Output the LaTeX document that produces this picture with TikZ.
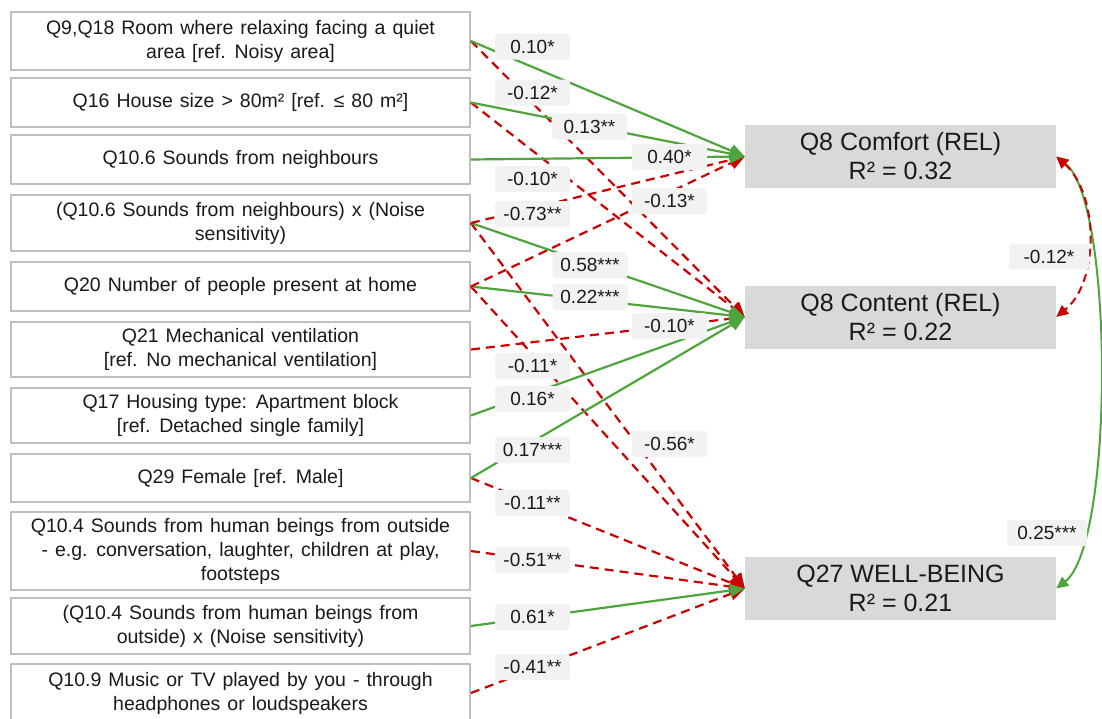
\documentclass[tikz,border=0pt]{standalone}
\usepackage{fontspec}
\setmainfont{Liberation Sans}
\usetikzlibrary{arrows.meta}
\definecolor{pgreen}{HTML}{4EA53C}
\definecolor{pred}{HTML}{CC0000}
\definecolor{lblfill}{HTML}{F2F2F2}
\definecolor{boxgray}{HTML}{D9D9D9}
\definecolor{bordergray}{HTML}{BFBFBF}
\definecolor{txt}{HTML}{1A1A1A}
\newcommand\srcfontcmd{\fontsize{19.5}{24}\selectfont\spaceskip 7pt\relax}
\begin{document}
\begin{tikzpicture}[x=1pt,y=-1pt,
 src/.style={draw=bordergray, line width=1.8pt, minimum width=459pt, align=center, text=txt, font=\srcfontcmd, inner sep=0pt},
 tgt/.style={fill=boxgray, minimum width=311pt, minimum height=63pt, align=center, text=txt, font=\fontsize{25}{29}\selectfont, inner sep=0pt},
 posline/.style={draw=pgreen, line width=2.2pt, -{Triangle[length=15pt,width=13pt]}},
 negline/.style={draw=pred, line width=2.2pt, dash pattern=on 9pt off 6pt, -{Triangle[length=15pt,width=13pt]}},
 covpos/.style={draw=pgreen, line width=2pt, {Triangle[length=12pt,width=11pt]}-{Triangle[length=12pt,width=11pt]}},
 covneg/.style={draw=pred, line width=2pt, dash pattern=on 8pt off 5pt, {Triangle[length=12pt,width=11pt]}-{Triangle[length=12pt,width=11pt]}},
 coef/.style={fill=lblfill, rounded corners=3pt, minimum width=75pt, minimum height=26pt, inner sep=0pt, text=txt, font=\fontsize{19}{22}\selectfont}
]
\useasboundingbox (0,0) rectangle (1102,718);
\fill[white] (0,0) rectangle (1102,718);

% source boxes
\node[src, minimum height=58pt] (b1) at (240.5,41) {Q9,Q18 Room where relaxing facing a quiet\\area {[}ref. Noisy area]};
\node[src, minimum height=49pt] (b2) at (240.5,102.5) {Q16 House size > 80m² {[}ref. ≤ 80 m²]};
\node[src, minimum height=49pt] (b3) at (240.5,159.5) {Q10.6 Sounds from neighbours};
\node[src, minimum height=56pt] (b4) at (240.5,223) {(Q10.6 Sounds from neighbours) x (Noise\\sensitivity)};
\node[src, minimum height=49pt] (b5) at (240.5,286.5) {Q20 Number of people present at home};
\node[src, minimum height=55pt] (b6) at (240.5,349.5) {Q21 Mechanical ventilation\\{[}ref. No mechanical ventilation]};
\node[src, minimum height=55pt] (b7) at (240.5,415.5) {Q17 Housing type: Apartment block\\{[}ref. Detached single family]};
\node[src, minimum height=48pt] (b8) at (240.5,478) {Q29 Female {[}ref. Male]};
\node[src, minimum height=78pt] (b9) at (240.5,551) {Q10.4 Sounds from human beings from outside\\- e.g. conversation, laughter, children at play,\\footsteps};
\node[src, minimum height=56pt] (b10) at (240.5,626) {(Q10.4 Sounds from human beings from\\outside) x (Noise sensitivity)};
\node[src, minimum height=58pt] (b11) at (240.5,693) {Q10.9 Music or TV played by you - through\\headphones or loudspeakers};

% target boxes
\node[tgt] (com) at (900.5,156.5) {Q8 Comfort (REL)\\R² = 0.32};
\node[tgt] (con) at (900.5,317) {Q8 Content (REL)\\R² = 0.22};
\node[tgt] (wb) at (900.5,588.5) {Q27 WELL-BEING\\R² = 0.21};

% paths to Well-being
\draw[negline] (b4.east) -- (wb.west);
\draw[negline] (b5.east) -- (wb.west);
\draw[negline] (b8.east) -- (wb.west);
\draw[negline] (b9.east) -- (wb.west);
\draw[negline] (b11.east) -- (wb.west);
\draw[posline] (b10.east) -- (wb.west);

% paths to Content
\draw[negline] (b1.east) -- (con.west);
\draw[negline] (b2.east) -- (con.west);
\draw[negline] (b6.east) -- (con.west);
\draw[posline] (b4.east) -- (con.west);
\draw[posline] (b5.east) -- (con.west);
\draw[posline] (b7.east) -- (con.west);
\draw[posline] (b8.east) -- (con.west);

% paths to Comfort
\draw[negline] (b4.east) -- (com.west);
\draw[negline] (b5.east) -- (com.west);
\draw[posline] (b1.east) -- (com.west);
\draw[posline] (b2.east) -- (com.west);
\draw[posline] (b3.east) -- (com.west);

% covariances
\draw[covpos] (com.east) .. controls +(58,45) and +(58,-45) .. (wb.east);
\draw[covneg] (com.east) .. controls +(43,38) and +(43,-35) .. (con.east);

% coefficient labels
\node[coef] (l1) at (532.5,46.5) {0.10*};
\node[coef] (l2) at (532.5,92.5) {-0.12*};
\node[coef] (l3) at (589.5,126.5) {0.13**};
\node[coef] (l4) at (669.5,157) {0.40*};
\node[coef] (l5) at (532.5,179) {-0.10*};
\node[coef] (l6) at (669.5,201) {-0.13*};
\node[coef] (l7) at (532.5,214) {-0.73**};
\node[coef] (l8) at (590,265) {0.58***};
\node[coef] (l9) at (590,297) {0.22***};
\node[coef] (l10) at (669.5,326) {-0.10*};
\node[coef] (l11) at (532.5,366) {-0.11*};
\node[coef] (l12) at (532.5,399) {0.16*};
\node[coef] (l13) at (532.5,450) {0.17***};
\node[coef] (l14) at (669.5,444) {-0.56*};
\node[coef] (l15) at (532.5,503) {-0.11**};
\node[coef] (l16) at (532.5,560) {-0.51**};
\node[coef] (l17) at (532.5,617) {0.61*};
\node[coef] (l18) at (532.5,667) {-0.41**};
\node[coef, minimum width=80pt] (l19) at (1049,256.5) {-0.12*};
\node[coef, minimum width=80pt] (l20) at (1047,533) {0.25***};
\end{tikzpicture}
\end{document}
